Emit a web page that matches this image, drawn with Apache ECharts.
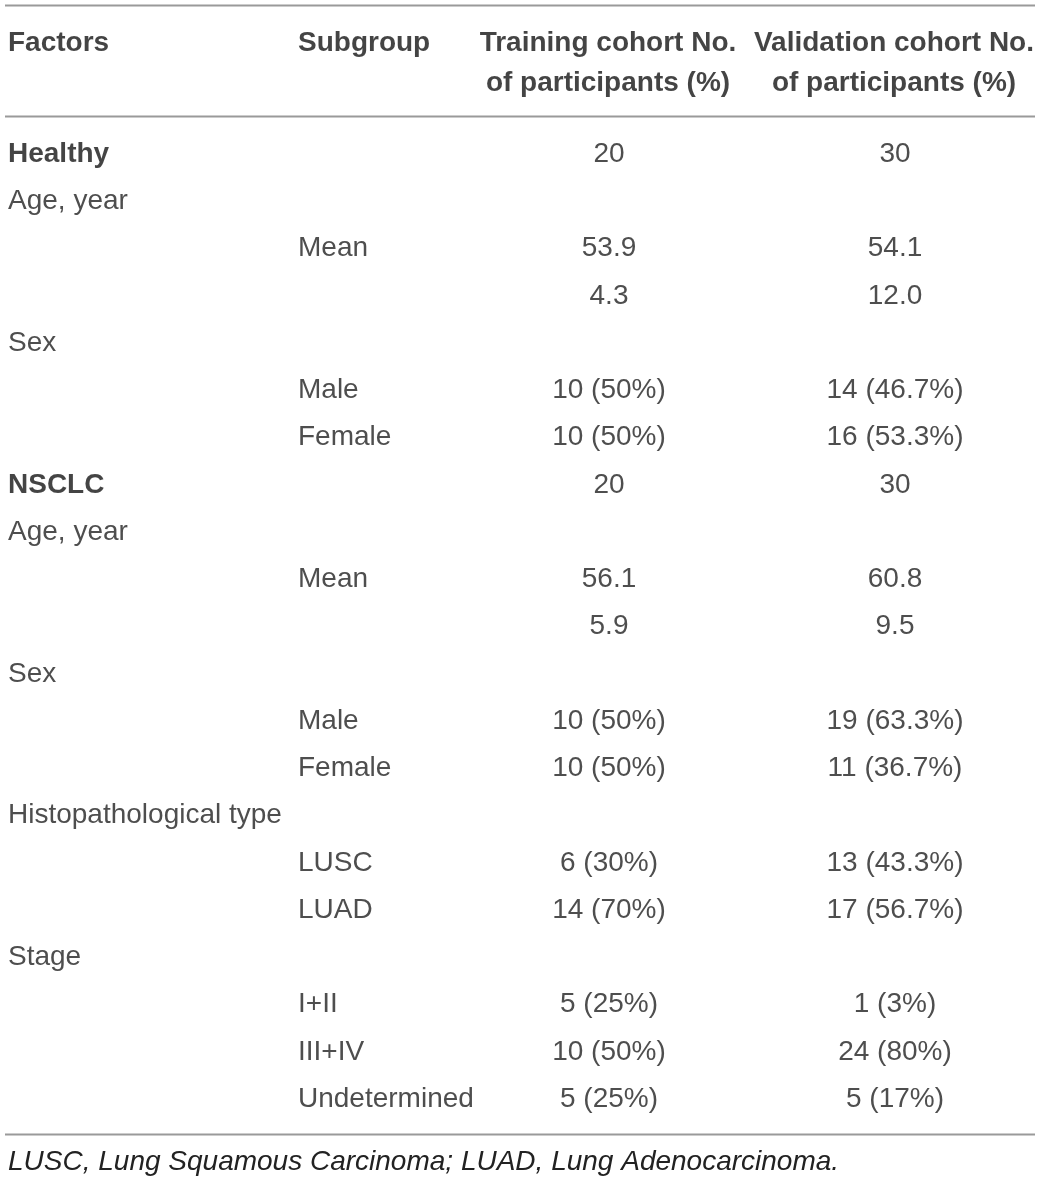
<!DOCTYPE html>
<html><head><meta charset="utf-8">
<script src="https://cdn.jsdelivr.net/npm/echarts@6/dist/echarts.min.js"></script>
<style>html,body{margin:0;padding:0;background:#fff}#c{width:1045px;height:1182px}</style>
</head><body><div id="c"></div>
<script>
// ---- table content ----
const columns = ['Factors', 'Subgroup', 'Training', 'Validation'];
const headers = ['Factors', 'Subgroup', 'Training cohort No.\nof participants (%)', 'Validation cohort No.\nof participants (%)'];
const factors = ['Healthy', 'Age, year', '', '', 'Sex', '', '', 'NSCLC', 'Age, year', '', '', 'Sex', '', '', 'Histopathological type', '', '', 'Stage', '', '', ''];
const boldFactors = ['Healthy', 'NSCLC'];
const subgroups = ['', '', 'Mean', '', '', 'Male', 'Female', '', '', 'Mean', '', '', 'Male', 'Female', '', 'LUSC', 'LUAD', '', 'I+II', 'III+IV', 'Undetermined'];
const training = ['20', '', '53.9', '4.3', '', '10 (50%)', '10 (50%)', '20', '', '56.1', '5.9', '', '10 (50%)', '10 (50%)', '', '6 (30%)', '14 (70%)', '', '5 (25%)', '10 (50%)', '5 (25%)'];
const validation = ['30', '', '54.1', '12.0', '', '14 (46.7%)', '16 (53.3%)', '30', '', '60.8', '9.5', '', '19 (63.3%)', '11 (36.7%)', '', '13 (43.3%)', '17 (56.7%)', '', '1 (3%)', '24 (80%)', '5 (17%)'];
const footnote = 'LUSC, Lung Squamous Carcinoma; LUAD, Lung Adenocarcinoma.';

// ---- build ----
const FONT = '"Liberation Sans", Arial, sans-serif';
const FS = 28;
const TEXT = '#222222';
const BOLD = '#151515';
const rowIdx = factors.map((_, i) => String(i));
const bodyCols = [factors, subgroups, training, validation];
const colLabel = [
  { align: 'left', offset: [-29, 0] },
  { align: 'left', offset: [-25, 0] },
  { align: 'center', offset: [0, 0] },
  { align: 'center', offset: [0, 0] }
];
const headLabel = [
  { align: 'left', offset: [-29, -20] },
  { align: 'left', offset: [-25, -20] },
  { align: 'center', offset: [-1, 0] },
  { align: 'center', offset: [-1, 0] }
];

const series = [];
bodyCols.forEach((col, c) => {
  series.push({
    type: 'scatter', xAxisIndex: 1, yAxisIndex: 1, symbolSize: 0, silent: true,
    data: col.map((t, i) => {
      const item = { value: [c, i], name: t };
      if (c === 0 && boldFactors.includes(t)) item.label = { fontWeight: 'bold', color: BOLD };
      return item;
    }),
    label: Object.assign({
      show: true, position: 'inside', formatter: '{b}', verticalAlign: 'middle',
      fontFamily: FONT, fontSize: FS, color: TEXT, fontWeight: 'normal'
    }, colLabel[c])
  });
});
headers.forEach((h, c) => {
  series.push({
    type: 'scatter', xAxisIndex: 0, yAxisIndex: 0, symbolSize: 0, silent: true,
    data: [{ value: [c, 0], name: h }],
    label: Object.assign({
      show: true, position: 'inside', formatter: '{b}', verticalAlign: 'middle',
      fontFamily: FONT, fontSize: FS, fontWeight: 'bold', color: BOLD, lineHeight: 40
    }, headLabel[c])
  });
});

const hiddenX = (gi) => ({ type: 'value', gridIndex: gi, min: 0, max: 3, show: false });
const chart = echarts.init(document.getElementById('c'), null, { renderer: 'canvas' });
chart.setOption({
  animation: false,
  backgroundColor: '#ffffff',
  grid: [
    { left: 37, right: 150, top: 1, height: 124 },
    { left: 37, right: 150, top: 130.6, height: 992.25 }
  ],
  xAxis: [hiddenX(0), hiddenX(1)],
  yAxis: [
    { type: 'category', gridIndex: 0, data: ['header'], show: false },
    { type: 'category', gridIndex: 1, data: rowIdx, inverse: true, show: false }
  ],
  series: series,
  graphic: [
    { type: 'line', shape: { x1: 5, y1: 5.5, x2: 1035, y2: 5.5 }, style: { stroke: '#9a9a9a', lineWidth: 2 } },
    { type: 'line', shape: { x1: 5, y1: 116.5, x2: 1035, y2: 116.5 }, style: { stroke: '#9a9a9a', lineWidth: 2 } },
    { type: 'line', shape: { x1: 5, y1: 1134.5, x2: 1035, y2: 1134.5 }, style: { stroke: '#9a9a9a', lineWidth: 2 } },
    { type: 'text', left: 8, top: 1148, style: { text: footnote, font: 'italic 28px "Liberation Sans", Arial, sans-serif', fill: TEXT } }
  ]
});
</script></body></html>
